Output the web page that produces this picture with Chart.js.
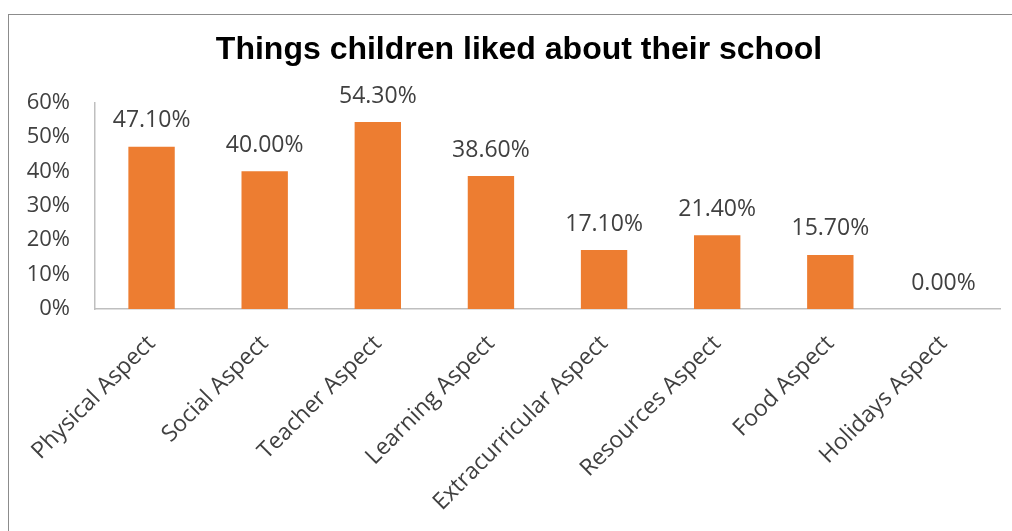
<!DOCTYPE html>
<html lang="en">
<head>
    <meta charset="UTF-8">
    <title>Things children liked about their school</title>
    <script src="https://cdn.jsdelivr.net/npm/chart.js"></script>
    <style>
        html, body { margin: 0; padding: 0; background: #fff; overflow: hidden; }
        #wrap { position: relative; width: 1012px; height: 531px; }
        #frame {
            position: absolute; left: 8px; top: 14px;
            width: 1100px; height: 600px;
            border: 1px solid #8c8c8c;
        }
        #chart { position: absolute; left: 0; top: 0; }
    </style>
</head>
<body>

<div id="wrap">
    <div id="frame"></div>
    <canvas id="chart" width="1012" height="531"></canvas>
</div>

<script>
    // Survey results: share of children naming each aspect
    const aspects = ['Physical Aspect', 'Social Aspect', 'Teacher Aspect', 'Learning Aspect',
        'Extracurricular Aspect', 'Resources Aspect', 'Food Aspect', 'Holidays Aspect'];
    const percentLiked = [47.1, 40.0, 54.3, 38.6, 17.1, 21.4, 15.7, 0.0];
    const yTickLabels = ['0%', '10%', '20%', '30%', '40%', '50%', '60%'];

    const textColor = '#404040';
    const axisColor = '#bfbfbf';

    // Value labels above each bar
    const barValueLabels = {
        id: 'barValueLabels',
        afterDatasetsDraw(chart) {
            const ctx = chart.ctx;
            const meta = chart.getDatasetMeta(0);
            ctx.save();
            ctx.font = '23px "Open Sans"';
            ctx.fillStyle = textColor;
            ctx.textAlign = 'center';
            ctx.textBaseline = 'middle';
            meta.data.forEach((bar, i) => {
                ctx.fillText(percentLiked[i].toFixed(2) + '%', bar.x, bar.y - 26);
            });
            ctx.restore();
        }
    };

    // Centre the title over the plot rather than the whole canvas
    const titleOverPlot = {
        id: 'titleOverPlot',
        afterLayout(chart) {
            if (chart.titleBlock) chart.titleBlock.left = 38;
        }
    };

    const ctx = document.getElementById('chart').getContext('2d');
    new Chart(ctx, {
        type: 'bar',
        data: {
            labels: aspects,
            datasets: [{
                data: percentLiked,
                backgroundColor: '#ed7d31',
                barPercentage: 0.41,
                categoryPercentage: 1.0
            }]
        },
        options: {
            responsive: false,
            animation: false,
            layout: { padding: { left: 20, right: 12, top: 0, bottom: 0 } },
            plugins: {
                legend: { display: false },
                tooltip: { enabled: false },
                title: {
                    display: true,
                    text: 'Things children liked about their school',
                    color: '#000',
                    font: { family: '"Liberation Sans", Arial, sans-serif', size: 32, weight: 'bold' },
                    padding: { top: 31, bottom: 33 }
                }
            },
            scales: {
                x: {
                    grid: { display: false, drawTicks: false },
                    border: { display: true, color: axisColor, width: 1.5 },
                    ticks: {
                        color: textColor,
                        font: { family: '"Open Sans"', size: 23 },
                        minRotation: 45,
                        maxRotation: 45,
                        autoSkip: false,
                        padding: 21
                    },
                    afterFit(scale) { scale.height = 222; }
                },
                y: {
                    min: 0,
                    max: 60,
                    grid: { display: false, drawTicks: false },
                    border: { display: true, color: axisColor, width: 1.5 },
                    ticks: {
                        stepSize: 10,
                        color: textColor,
                        font: { family: '"Open Sans"', size: 22 },
                        padding: 25,
                        callback: (v, i) => yTickLabels[i]
                    },
                    afterFit(scale) { scale.width = 75; }
                }
            }
        },
        plugins: [barValueLabels, titleOverPlot]
    });
</script>

</body>
</html>
